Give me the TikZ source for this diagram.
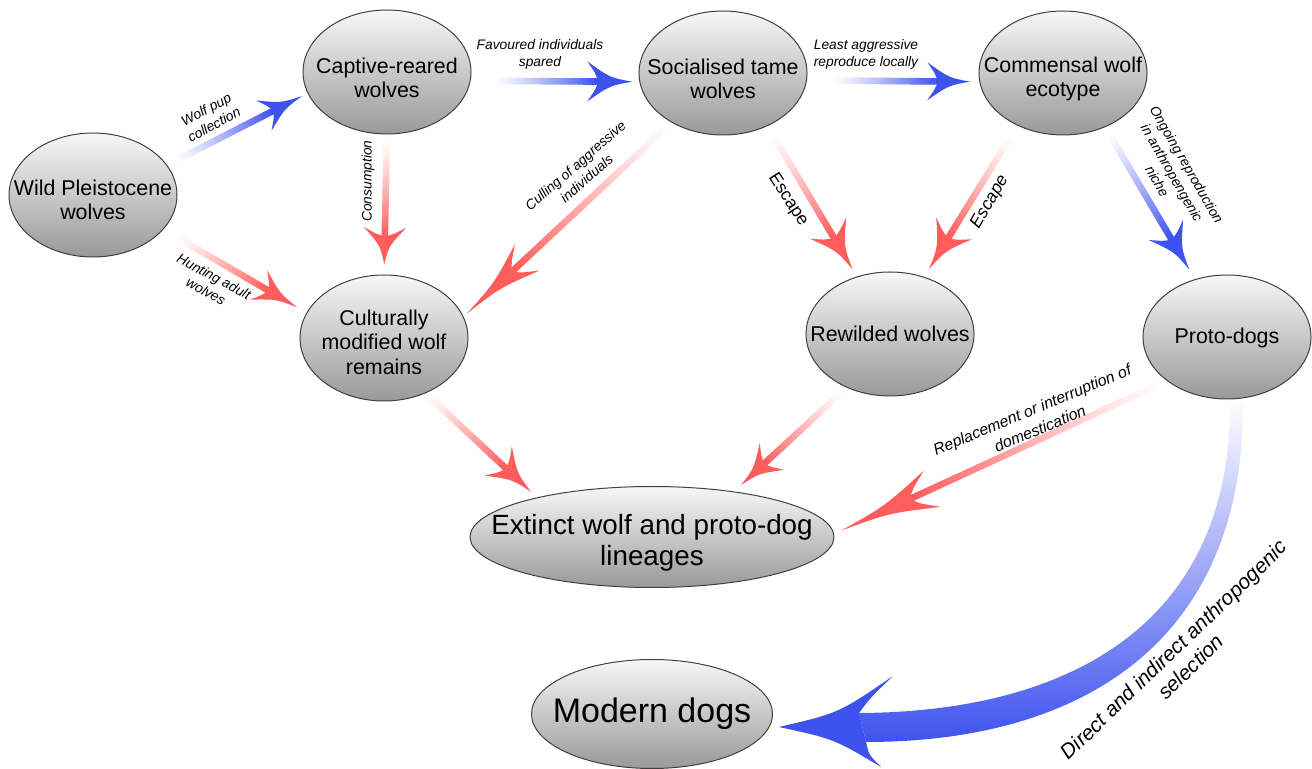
\documentclass[tikz,border=0pt]{standalone}
\usepackage{fontspec}
\setmainfont{Liberation Sans}
\usetikzlibrary{shapes.geometric,calc}
\definecolor{arrowred}{RGB}{255,92,92}
\definecolor{arrowblue}{RGB}{62,82,238}
% gradient arrow: from, to, colour, start gap, end gap, head length, head half width (px)
\newcommand\garrow[7]{%
  \path let \p1=($(#2)-(#1)$) in \pgfextra{%
    \pgfmathsetmacro\gaA{atan2(\y1,\x1)}%
    \pgfmathsetmacro\gaL{2*veclen(\x1,\y1)}%
    \xdef\gaAng{\gaA}\xdef\gaLen{\gaL}};
  \begin{scope}[shift={(#1)},rotate=\gaAng,x=0.5pt,y=0.5pt]
    \pgfmathsetmacro\gaS{#4}%
    \pgfmathsetmacro\gaE{\gaLen-#5}%
    \pgfmathsetmacro\gaN{\gaE-0.78*#6}%
    \foreach \i in {0,...,39}{%
      \pgfmathsetmacro\gaXa{\gaS+(\gaN+1-\gaS)*\i/40}%
      \pgfmathsetmacro\gaXb{\gaS+(\gaN+1-\gaS)*(\i+1)/40+0.4}%
      \pgfmathsetmacro\gaPc{3+97*(\i/39)^1.15}%
      \fill[#3!\gaPc!white] (\gaXa,-3.3) rectangle (\gaXb,3.3);
    }
    \fill[#3] (\gaE,0) .. controls ({\gaE-0.5*#6},{0.2*#7}) .. ({\gaE-#6},#7)
      .. controls ({\gaE-0.82*#6},{0.4*#7}) .. (\gaN,3.3) -- (\gaN,-3.3)
      .. controls ({\gaE-0.82*#6},{-0.4*#7}) .. ({\gaE-#6},-#7)
      .. controls ({\gaE-0.5*#6},{-0.2*#7}) .. (\gaE,0) -- cycle;
  \end{scope}}
\begin{document}
\begin{tikzpicture}[x=0.5pt,y=-0.5pt,
  ell/.style={ellipse, draw=black!75, line width=0.5pt, top color=black!3, bottom color=black!40, inner sep=0pt, minimum width=84pt, minimum height=62pt},
  etext/.style={align=center, inner sep=0pt, font=\fontsize{10.7}{12.2}\selectfont},
  lbl/.style={align=center, inner sep=0pt, font=\fontsize{6.9}{8.5}\selectfont\itshape},
  esc/.style={inner sep=0pt, font=\fontsize{8.8}{10}\selectfont}]
\useasboundingbox (0,0) rectangle (1312,769);
\fill[white] (0,0) rectangle (1312,769);
% nodes
\node[ell] (wild) at (93,195) {};
\node[etext] (wildt) at (93,200) {Wild Pleistocene\\wolves};
\node[ell] (captive) at (387,72) {};
\node[etext] (captivet) at (387,78) {Captive-reared\\wolves};
\node[ell] (social) at (723,73) {};
\node[etext] (socialt) at (723,79) {Socialised tame\\wolves};
\node[ell] (commensal) at (1063,73) {};
\node[etext] (commensalt) at (1063,79) {Commensal wolf\\ecotype};
\node[ell, minimum height=63pt] (cultural) at (384,338) {};
\node[etext] (culturalt) at (384,342) {Culturally\\modified wolf\\remains};
\node[ell] (rewild) at (890,334) {};
\node[etext] (rewildt) at (890,334) {Rewilded wolves};
\node[ell] (proto) at (1227,337) {};
\node[etext] (protot) at (1227,338) {Proto-dogs};
\node[ell, minimum width=182pt, minimum height=50.5pt] (extinct) at (652,537) {};
\node[etext, font=\fontsize{13.9}{15.8}\selectfont] (extinctt) at (652,543) {Extinct wolf and proto-dog\\lineages};
\node[ell, minimum width=120.5pt, minimum height=54.5pt] (modern) at (652,714) {};
\node[etext, font=\fontsize{17}{19}\selectfont] (moderntxt) at (652,714) {Modern dogs};
% arrows
\garrow{wild.22}{captive.195}{arrowblue}{14}{6}{43}{17}
\garrow{wild.334}{cultural.162}{arrowred}{19}{10}{45}{17}
\garrow{captive.south}{cultural.north}{arrowred}{9}{10}{37}{21}
\garrow{captive.354}{social.186}{arrowblue}{27}{7}{45}{20}
\garrow{social.224}{cultural.15}{arrowred}{11}{4}{83}{18}
\garrow{social.355}{commensal.186}{arrowblue}{30}{9}{43}{19}
\garrow{social.310}{rewild.120}{arrowred}{15}{8}{48}{21}
\garrow{commensal.229}{rewild.59}{arrowred}{17}{9}{48}{21}
\garrow{commensal.308}{proto.119}{arrowblue}{12}{11}{46}{20}
\garrow{cultural.307}{extinct.161}{arrowred}{5}{8}{45}{20}
\garrow{rewild.231}{extinct.29}{arrowred}{10}{9}{42}{18}
\garrow{proto.216}{extinct.1}{arrowred}{12}{8}{100}{20}
% big curved arrow
\coordinate (bs) at ($(proto.south)+(9,6)$);
\coordinate (bt) at ($(modern.east)+(6,13)$);
\shade[top color=arrowblue!2!white, middle color=arrowblue!38!white, bottom color=arrowblue]
  ($(bs)+(7,0)$) .. controls ($(bs)+(7,235)$) and ($(bt)+(305,15)$) .. ($(bt)+(87,15)$)
  -- ($(bt)+(80,-14)$) .. controls ($(bt)+(295,-15)$) and ($(bs)+(-6,215)$) .. ($(bs)+(-6,0)$) -- cycle;
\fill[arrowblue] (bt) .. controls ($(bt)+(60,-14)$) .. ($(bt)+(114,-51)$)
  .. controls ($(bt)+(92,-30)$) .. ($(bt)+(80,-14)$) -- ($(bt)+(87,15)$)
  .. controls ($(bt)+(90,28)$) .. ($(bt)+(102,40)$)
  .. controls ($(bt)+(55,12)$) .. (bt) -- cycle;
% labels
\node[lbl, rotate=28] (lpup) at (210,117) {Wolf pup\\collection};
\node[lbl, rotate=-28] (lhunt) at (210,284) {Hunting adult\\wolves};
\node[lbl, rotate=90] (lcons) at (368,181) {Consumption};
\node[lbl] (lfav) at (540,54) {Favoured individuals\\spared};
\node[lbl, rotate=41] (lcull) at (581,172) {Culling of aggressive\\individuals};
\node[lbl] (lleast) at (866,54) {Least aggressive\\reproduce locally};
\node[esc, rotate=-57] (lesc1) at (788,200) {Escape};
\node[esc, rotate=60, font=\fontsize{8.8}{10}\selectfont\itshape] (lesc2) at (990,202) {Escape};
\node[lbl, rotate=-60] (longo) at (1172,173) {Ongoing reproduction\\in anthropengenic\\niche};
\node[lbl, rotate=22.6, font=\fontsize{7.9}{10.2}\selectfont\itshape] (lrep) at (1036,419) {Replacement or interruption of\\domestication};
\node[lbl, rotate=44, font=\fontsize{10.4}{12.2}\selectfont\itshape] (ldir) at (1182,658) {Direct and indirect anthropogenic\\selection};
\end{tikzpicture}
\end{document}
